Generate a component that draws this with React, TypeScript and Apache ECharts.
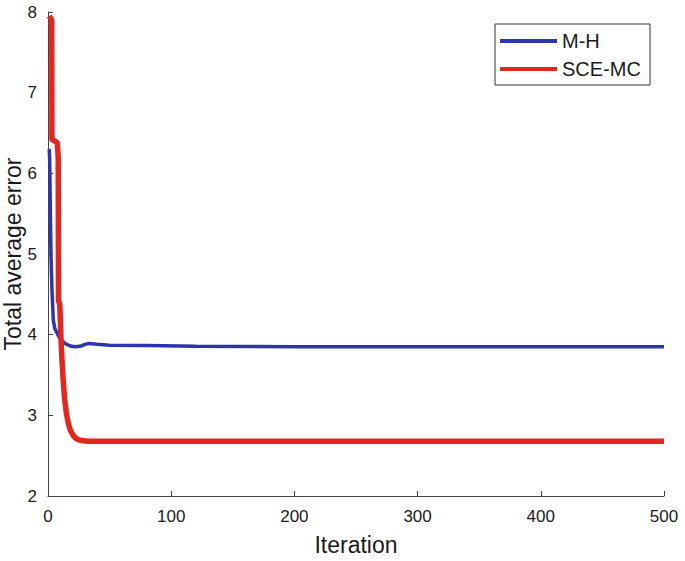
import React, { useEffect, useRef } from "react";
import * as echarts from "echarts";

const seriesNames = ["M-H", "SCE-MC"];
const xTicks = [0, 100, 200, 300, 400, 500];
const yTicks = [2, 3, 4, 5, 6, 7, 8];

const mhPoints: [number, number][] = [
  [1, 6.3], [1.3, 6.2], [1.6, 5.92], [2, 5.4], [2.4, 5.0], [3.2, 4.56], [4.3, 4.18],
  [5.5, 4.08], [7, 4.03], [9, 3.97], [11, 3.93], [14, 3.89], [18, 3.86], [22, 3.85],
  [27, 3.86], [30, 3.88], [33, 3.89], [40, 3.88], [50, 3.87], [80, 3.865], [120, 3.855],
  [200, 3.85], [500, 3.85],
];

const scePoints: [number, number][] = [
  [1, 7.95], [3, 7.9], [3.2, 6.42], [7.5, 6.38], [8.3, 6.2], [8.5, 4.42], [9.5, 4.38],
  [10, 4.2], [10.6, 3.93], [11.3, 3.7], [12.3, 3.44], [13.5, 3.2], [14.9, 3.03],
  [16.5, 2.9], [18, 2.82], [20.5, 2.75], [23, 2.71], [26, 2.69], [32, 2.68], [500, 2.68],
];

const FONT = "'Liberation Sans', Arial, Helvetica, sans-serif";
const TEXT = "#1a1a1a";
const AXIS = "#444";

export default function App() {
  const ref = useRef<HTMLDivElement>(null);
  useEffect(() => {
    document.body.style.margin = "0";
    const chart = echarts.init(ref.current!, null, { renderer: "svg" });
    chart.setOption({
      animation: false,
      backgroundColor: "#ffffff",
      textStyle: { fontFamily: FONT },
      grid: { left: 48, right: 21, top: 12, bottom: 65, containLabel: false, outerBoundsMode: "none" },
      xAxis: {
        type: "value",
        min: xTicks[0],
        max: xTicks[xTicks.length - 1],
        interval: 100,
        name: "Iteration",
        nameLocation: "middle",
        nameGap: 37,
        nameMoveOverlap: false,
        nameTextStyle: { fontSize: 23, color: TEXT, fontFamily: FONT },
        axisLine: { show: true, lineStyle: { color: AXIS, width: 1 } },
        axisTick: { show: true, inside: true, length: 5, lineStyle: { color: AXIS } },
        axisLabel: { fontSize: 17, color: TEXT, margin: 12, fontFamily: FONT },
        splitLine: { show: false },
      },
      yAxis: {
        type: "value",
        min: yTicks[0],
        max: yTicks[yTicks.length - 1],
        interval: 1,
        name: "Total average error",
        nameLocation: "middle",
        nameRotate: 90,
        nameGap: 24,
        nameMoveOverlap: false,
        nameTextStyle: { fontSize: 23, color: TEXT, fontFamily: FONT },
        axisLine: { show: true, lineStyle: { color: AXIS, width: 1 } },
        axisTick: { show: true, inside: true, length: 5, lineStyle: { color: AXIS } },
        axisLabel: { fontSize: 17, color: TEXT, margin: 11, fontFamily: FONT },
        splitLine: { show: false },
      },
      legend: {
        left: 500,
        top: 31,
        orient: "vertical",
        icon: "rect",
        itemWidth: 57,
        itemHeight: 4,
        itemGap: 8,
        padding: 0,
        data: seriesNames,
        textStyle: { fontSize: 20, color: TEXT, fontFamily: FONT, lineHeight: 20 },
      },
      graphic: [
        {
          type: "rect",
          shape: { x: 495, y: 24, width: 155, height: 61 },
          style: { fill: "none", stroke: "#333", lineWidth: 1 },
          z: 10,
        },
      ],
      series: [
        {
          name: seriesNames[0],
          type: "line",
          data: mhPoints,
          symbol: "none",
          color: "#2c35ab",
          lineStyle: { width: 3.5, color: "#2c35ab" },
          z: 3,
        },
        {
          name: seriesNames[1],
          type: "line",
          data: scePoints,
          symbol: "none",
          color: "#e3261f",
          lineStyle: { width: 5.5, color: "#e3261f" },
          z: 4,
        },
      ],
    });
    return () => chart.dispose();
  }, []);
  return <div ref={ref} style={{ width: 685, height: 561 }} />;
}
